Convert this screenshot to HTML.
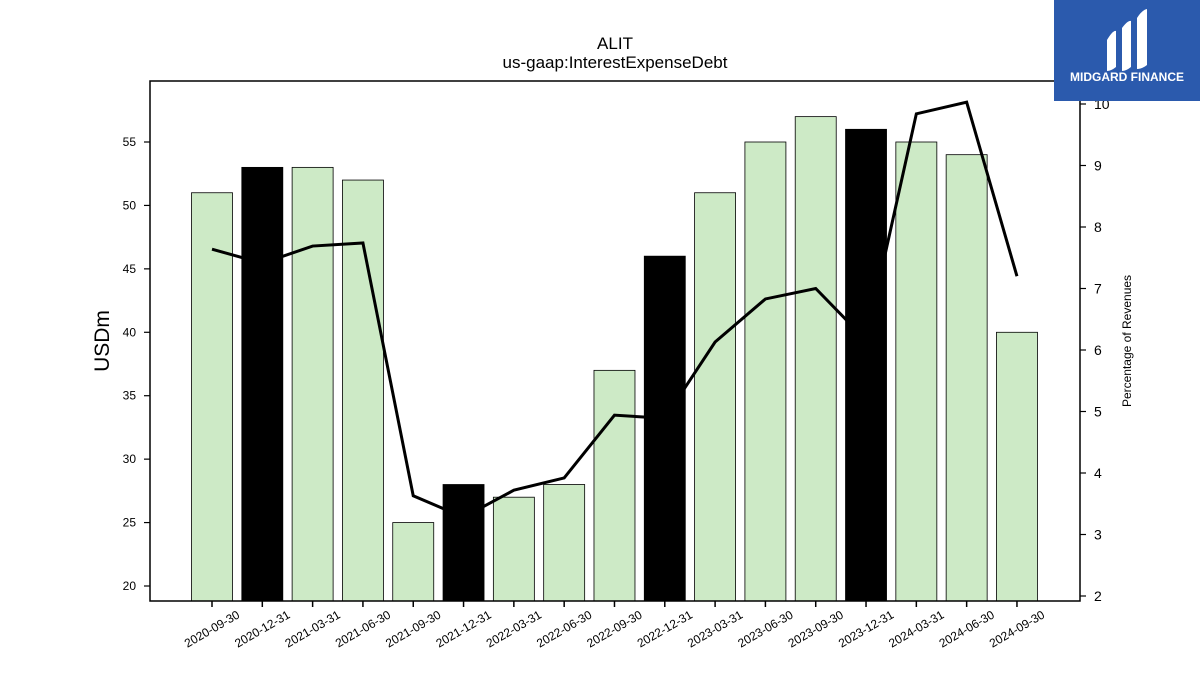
<!DOCTYPE html>
<html><head><meta charset="utf-8"><style>body{margin:0;background:#fff}svg{display:block;font-family:"Liberation Sans","DejaVu Sans",sans-serif}</style></head>
<body>
<svg id="chart" width="1200" height="675" viewBox="0 0 1200 675">
<text x="615" y="49" text-anchor="middle" font-size="17">ALIT</text>
<text x="615" y="68" text-anchor="middle" font-size="17">us-gaap:InterestExpenseDebt</text>
<text transform="translate(109,341) rotate(-90)" text-anchor="middle" font-size="21">USDm</text>
<text transform="translate(1131,341) rotate(-90)" text-anchor="middle" font-size="12">Percentage of Revenues</text>
<g id="bars"></g><g id="ticks"></g>
<polyline id="line" fill="none" stroke="#000" stroke-width="3"/>
<rect x="150" y="81" width="930" height="520" fill="none" stroke="#000" stroke-width="1.5"/>
<g>
<rect x="1054" y="0" width="146" height="101" fill="#2b5aad"/>
<path d="M1107 40 q6-10 9-9 v36 q-5 4-9 4z M1122 28 q6-8 9-7 v46 q-5 4-9 4z M1137 18 q5-8 10-9 v56 q-5 4-10 4z" fill="#fff"/>
<text x="1127" y="81" text-anchor="middle" font-size="12" font-weight="bold" fill="#fff">MIDGARD FINANCE</text>
</g>
</svg>
<script>
const categories=["2020-09-30","2020-12-31","2021-03-31","2021-06-30","2021-09-30","2021-12-31","2022-03-31","2022-06-30","2022-09-30","2022-12-31","2023-03-31","2023-06-30","2023-09-30","2023-12-31","2024-03-31","2024-06-30","2024-09-30"];
const interestValues=[51,53,53,52,25,28,27,28,37,46,51,55,57,56,55,54,40];
const pctValues=[7.64,7.41,7.69,7.74,3.63,3.28,3.72,3.92,4.94,4.89,6.13,6.83,7.0,6.16,9.84,10.03,7.2];
const leftTicks=[20,25,30,35,40,45,50,55];
const rightTicks=[2,3,4,5,6,7,8,9,10];
const NS="http://www.w3.org/2000/svg";
const yL=v=>586-(v-20)*(444/35);
const yR=v=>596-(v-2)*61.5;
const xC=i=>212+i*50.31;
const bars=document.getElementById('bars'),ticks=document.getElementById('ticks');
function mk(t,a,p){const e=document.createElementNS(NS,t);for(const k in a)e.setAttribute(k,a[k]);p.appendChild(e);return e;}
categories.forEach((c,i)=>{
  const black=c.endsWith('12-31');
  const r=mk('rect',{x:xC(i)-20.5,y:yL(interestValues[i]),width:41,height:601-yL(interestValues[i]),fill:black?'#000':'#cdeac6',stroke:'#000','stroke-width':0.8},bars);
  
  
  mk('line',{x1:xC(i),x2:xC(i),y1:601,y2:607,stroke:'#000','stroke-width':1.5},ticks);
  const t=mk('text',{x:xC(i),y:633,'text-anchor':'middle','font-size':12,transform:`rotate(-30 ${xC(i)} 629)`},ticks);
  t.textContent=c;
  
  
});
leftTicks.forEach(v=>{
  mk('line',{x1:144,x2:150,y1:yL(v),y2:yL(v),stroke:'#000','stroke-width':1.2},ticks);
  const t=mk('text',{x:136,y:yL(v)+4,'text-anchor':'end','font-size':12},ticks);
  t.textContent=v;
  
  
});
rightTicks.forEach(v=>{
  mk('line',{x1:1080,x2:1086,y1:yR(v),y2:yR(v),stroke:'#000','stroke-width':1.2},ticks);
  const t=mk('text',{x:1094,y:yR(v)+5,'font-size':14},ticks);
  t.textContent=v;
  
  
});
document.getElementById('line').setAttribute('points',pctValues.map((v,i)=>xC(i)+','+yR(v)).join(' '));
</script>
</body></html>
